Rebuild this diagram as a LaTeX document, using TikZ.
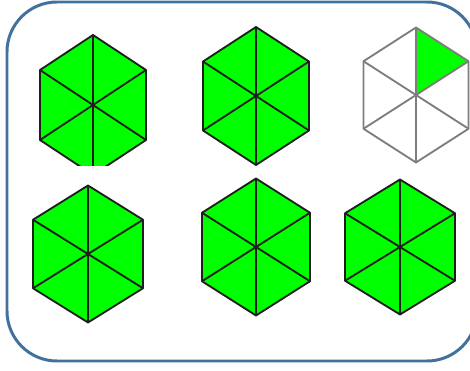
\documentclass[tikz,border=0pt]{standalone}
\usepackage{xcolor}
\usetikzlibrary{calc}
\definecolor{framesteel}{RGB}{65,113,156}
\definecolor{wedgegreen}{RGB}{0,255,0}
\definecolor{edgedark}{RGB}{30,30,30}
\definecolor{edgegray}{RGB}{125,125,125}

\tikzset{
  hexline/.style={edgedark,line width=1.05pt,line join=round},
  hexpale/.style={edgegray,line width=1.05pt,line join=round},
}

% one hexagon: centre (#1,#2), half width #3, half height #4, line style #5
\newcommand{\hexcell}[5]{%
  \coordinate (T) at (#1,{#2-#4});
  \coordinate (UR) at ({#1+#3},{#2-#4/2});
  \coordinate (LR) at ({#1+#3},{#2+#4/2});
  \coordinate (B) at (#1,{#2+#4});
  \coordinate (LL) at ({#1-#3},{#2+#4/2});
  \coordinate (UL) at ({#1-#3},{#2-#4/2});
  \draw[#5] (T) -- (UR) -- (LR) -- (B) -- (LL) -- (UL) -- cycle;
  \draw[#5] (T) -- (B) (UL) -- (LR) (UR) -- (LL);
}

\begin{document}
\begin{tikzpicture}[x=0.02cm,y=-0.02cm]
\useasboundingbox (0,0) rectangle (470,371);

%% ── frame (right side runs past the page edge) ─────────────────────────────
\begin{scope}
  \clip (0,0) rectangle (470,371);
  \draw[framesteel,line width=1.7pt,rounded corners=1cm] (7,2) rectangle (477,361);
\end{scope}

%% ── top left hexagon, cut off at its lower tip ─────────────────────────────
\begin{scope}
  \clip (0,0) rectangle (470,166);
  \fill[wedgegreen] (93,35) -- (146,70) -- (146,140) -- (93,175) -- (40,140) -- (40,70) -- cycle;
  \hexcell{93}{105}{53}{70}{hexline}
\end{scope}

%% ── full green hexagons ────────────────────────────────────────────────────
\foreach \cx/\cy/\hw/\vr in {256/96/53/69, 88/254/55/68.5, 256/247/54/68.5, 400/247/55/67.5}{
  \fill[wedgegreen] (\cx,{\cy-\vr}) -- ({\cx+\hw},{\cy-\vr/2}) -- ({\cx+\hw},{\cy+\vr/2})
    -- (\cx,{\cy+\vr}) -- ({\cx-\hw},{\cy+\vr/2}) -- ({\cx-\hw},{\cy-\vr/2}) -- cycle;
  \hexcell{\cx}{\cy}{\hw}{\vr}{hexline}
}

%% ── top right hexagon, one sixth shaded ────────────────────────────────────
\fill[wedgegreen] (416,95) -- (416,27.5) -- (468.5,61.25) -- cycle;
\hexcell{416}{95}{52.5}{67.5}{hexpale}

\end{tikzpicture}
\end{document}
